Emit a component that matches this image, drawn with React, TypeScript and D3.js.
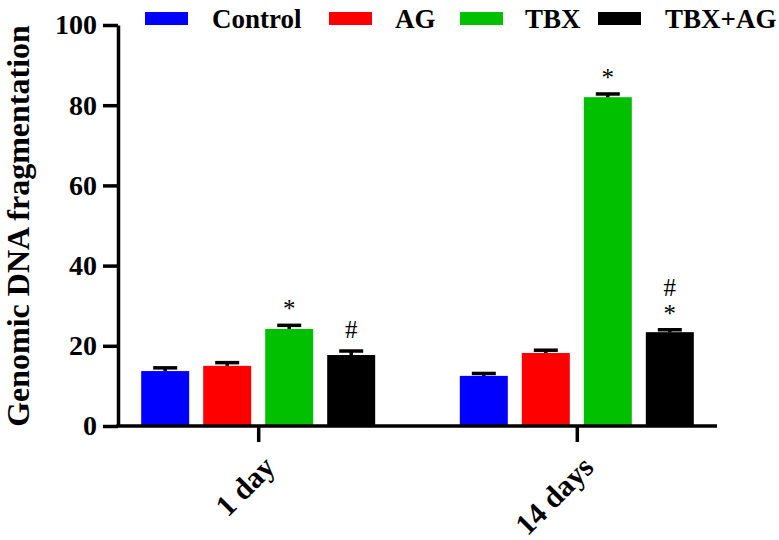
import React, { useEffect, useRef } from 'react';
import * as d3 from 'd3';

// groups on the x axis and the four treatments
const groups = ['1 day', '14 days'];
const series = ['Control', 'AG', 'TBX', 'TBX+AG'];
const colors = ['#0000ff', '#ff0000', '#00c000', '#000000'];

// mean values per series, one entry per group
const controlValues = [13.7, 12.5];
const agValues = [15.0, 18.2];
const tbxValues = [24.2, 82.0];
const tbxAgValues = [17.7, 23.4];

// error (upper half shown) per series
const controlErr = [0.8, 0.6];
const agErr = [0.8, 0.7];
const tbxErr = [0.9, 0.8];
const tbxAgErr = [1.0, 0.6];

const yTicks = [0, 20, 40, 60, 80, 100];

// significance marks, bottom to top
const marks = [
    { group: '1 day', series: 'TBX', labels: ['*'] },
    { group: '1 day', series: 'TBX+AG', labels: ['#'] },
    { group: '14 days', series: 'TBX', labels: ['*'] },
    { group: '14 days', series: 'TBX+AG', labels: ['*', '#'] },
];

const App = () => {
    const svgRef = useRef<SVGSVGElement>(null);
    const svgWidth = 779;
    const svgHeight = 540;

    useEffect(() => {
        const svg = d3.select(svgRef.current);
        svg.selectAll('*').remove();

        const font = '"Liberation Serif", "Times New Roman", serif';
        const left = 118, right = 717, top = 25, bottom = 426;

        const valueTable = [controlValues, agValues, tbxValues, tbxAgValues];
        const errTable = [controlErr, agErr, tbxErr, tbxAgErr];
        const data = groups.flatMap((g, gi) =>
            series.map((s, si) => ({
                group: g,
                series: s,
                value: valueTable[si][gi],
                err: errTable[si][gi],
                color: colors[si],
            }))
        );

        const x0 = d3.scalePoint().domain(groups).range([left, right]).padding(0.44);
        const x1 = d3.scaleBand().domain(series).range([-124, 124])
            .paddingInner(0.226).paddingOuter(0.113);
        const y = d3.scaleLinear().domain([0, 100]).range([bottom, top]);

        // bars
        svg.append('g')
            .selectAll('rect')
            .data(data)
            .join('rect')
            .attr('x', d => x0(d.group)! + x1(d.series)!)
            .attr('y', d => y(d.value))
            .attr('width', x1.bandwidth())
            .attr('height', d => y(0) - y(d.value))
            .attr('fill', d => d.color);

        // error bars (upper only)
        const eb = svg.append('g').attr('stroke', '#000').attr('stroke-width', 3.5);
        data.forEach(d => {
            const cx = x0(d.group)! + x1(d.series)! + x1.bandwidth() / 2;
            eb.append('line')
                .attr('x1', cx).attr('x2', cx)
                .attr('y1', y(d.value)).attr('y2', y(d.value + d.err));
            eb.append('line')
                .attr('x1', cx - 12).attr('x2', cx + 12)
                .attr('y1', y(d.value + d.err)).attr('y2', y(d.value + d.err));
        });

        // significance marks
        marks.forEach(m => {
            const d = data.find(e => e.group === m.group && e.series === m.series)!;
            const cx = x0(d.group)! + x1(d.series)! + x1.bandwidth() / 2;
            const capY = y(d.value + d.err);
            m.labels.forEach((lab, i) => {
                const center = capY - 21 - i * 21;
                svg.append('text')
                    .attr('x', cx)
                    .attr('y', center + (lab === '*' ? 13 : 8))
                    .attr('text-anchor', 'middle')
                    .style('font-family', font)
                    .style('font-size', '25px')
                    .text(lab);
            });
        });

        // y axis
        const yAxis = svg.append('g')
            .attr('transform', `translate(${left},0)`)
            .call(d3.axisLeft(y).tickValues(yTicks).tickSize(15).tickPadding(6).tickSizeOuter(0));
        yAxis.select('.domain').attr('stroke-width', 3.5);
        yAxis.selectAll('.tick line').attr('stroke-width', 3.5);
        yAxis.selectAll('.tick text')
            .style('font-family', font)
            .style('font-size', '28px')
            .style('font-weight', 'bold')
            .attr('fill', '#000');

        // x axis
        const xAxis = svg.append('g')
            .attr('transform', `translate(0,${bottom})`)
            .call(d3.axisBottom(x0).tickSize(16).tickSizeOuter(0));
        xAxis.select('.domain').attr('d', `M${left - 1.75},0H${right}`).attr('stroke-width', 3.5);
        xAxis.selectAll('.tick line').attr('stroke-width', 3.5);
        xAxis.selectAll('.tick text')
            .attr('y', 0)
            .attr('dy', 0)
            .attr('text-anchor', 'end')
            .attr('transform', 'translate(18,43) rotate(-45)')
            .style('font-family', font)
            .style('font-size', '30px')
            .style('font-weight', 'bold')
            .attr('fill', '#000');

        // y axis title
        svg.append('text')
            .attr('transform', `translate(29,226) rotate(-90)`)
            .attr('text-anchor', 'middle')
            .style('font-family', font)
            .style('font-size', '32px')
            .style('font-weight', 'bold')
            .text('Genomic DNA fragmentation');

        // legend
        const legendRectX = [145, 329, 460, 598];
        const legendTextX = [212, 395, 525, 665];
        series.forEach((s, i) => {
            svg.append('rect')
                .attr('x', legendRectX[i]).attr('y', 12)
                .attr('width', 43).attr('height', 13)
                .attr('fill', colors[i]);
            svg.append('text')
                .attr('x', legendTextX[i]).attr('y', 28)
                .style('font-family', font)
                .style('font-size', '27px')
                .style('font-weight', 'bold')
                .text(s);
        });
    }, []);

    return (
        <div>
            <svg ref={svgRef} width={svgWidth} height={svgHeight}
                style={{ position: 'absolute', left: 0, top: 0, background: '#fff' }}></svg>
        </div>
    );
};

export default App;
